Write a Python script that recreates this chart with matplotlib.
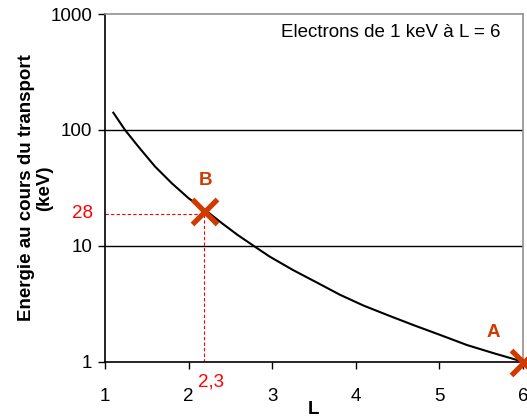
import numpy as np
import matplotlib.pyplot as plt

plt.rcParams['font.family'] = ['Liberation Sans', 'DejaVu Sans']

# courbe
L = [1.10, 1.24, 1.40, 1.60, 1.80, 2.00, 2.20, 2.40, 2.59, 2.79, 2.97, 3.25, 3.53,
     3.81, 4.09, 4.39, 4.69, 5.01, 5.33, 5.65, 5.93, 6.00]
E = [141, 100, 71.8, 48.3, 34.7, 25.8, 20.4, 15.7, 12.4, 9.9, 8.1, 6.2, 4.86,
     3.80, 3.07, 2.52, 2.08, 1.71, 1.40, 1.19, 1.04, 1.0]

# points A et B
pts_L = [6.0, 2.19]
pts_E = [1.0, 20.0]
pts_lab = ['A', 'B']
lab_L = [5.64, 2.20]
lab_E = [1.78, 37.0]

x_ticks = [1, 2, 3, 4, 5, 6]
y_ticks = [1, 10, 100, 1000]
y_ticklabels = ['1', '10', '100', '1000']

orange = '#D03A00'
fs = 13.5

fig = plt.figure(figsize=(5.27, 4.18), dpi=100)
ax = fig.add_axes([0.1992, 0.134, 0.7932, 0.8325])

ax.set_yscale('log')
ax.set_xlim(1, 6)
ax.set_ylim(1, 1000)

for v in [10, 100]:
    ax.axhline(v, color='black', lw=1.0, zorder=1)

ax.plot(L, E, color='black', lw=1.5, zorder=3)

# lignes pointillées rouges vers B
ax.plot([1, pts_L[1]], [pts_E[1] * 0.95] * 2, color='red', ls=(0, (3, 2)), lw=0.8, zorder=2)
ax.plot([pts_L[1]] * 2, [1, pts_E[1] * 0.95], color='red', ls=(0, (3, 2)), lw=0.8, zorder=2)

ax.plot(pts_L, pts_E, ls='none', marker='x', ms=18, mew=3.8, color=orange, zorder=5, clip_on=False)
for xl, yl, t in zip(lab_L, lab_E, pts_lab):
    ax.text(xl, yl, t, color=orange, fontsize=fs, fontweight='bold',
            ha='center', va='center')

ax.text(0.86, pts_E[1] * 0.95, '28', color='red', fontsize=fs, ha='right', va='center')
ax.text(pts_L[1] + 0.08, 0.67, '2,3', color='red', fontsize=fs, ha='center', va='center',
        clip_on=False)

ax.set_xticks(x_ticks)
ax.set_yticks(y_ticks)
ax.set_yticklabels(y_ticklabels)
ax.minorticks_off()
ax.tick_params(axis='both', direction='out', length=5, width=1, labelsize=fs, colors='black')
ax.tick_params(axis='x', pad=14)
ax.tick_params(axis='y', pad=4)

for s in ['top', 'right']:
    ax.spines[s].set_color('#909090')
    ax.spines[s].set_linewidth(1.2)
for s in ['left', 'bottom']:
    ax.spines[s].set_color('black')
    ax.spines[s].set_linewidth(1.2)

ax.set_xlabel('L', fontsize=fs, fontweight='bold', labelpad=-3)
ax.set_ylabel('Energie au cours du transport\n(keV)', fontsize=fs, fontweight='bold',
              labelpad=-2, linespacing=1.1)

ax.text(0.684, 0.948, 'Electrons de 1 keV à L = 6', transform=ax.transAxes,
        fontsize=fs, ha='center', va='center')

fig.savefig('out.png', dpi=100)
